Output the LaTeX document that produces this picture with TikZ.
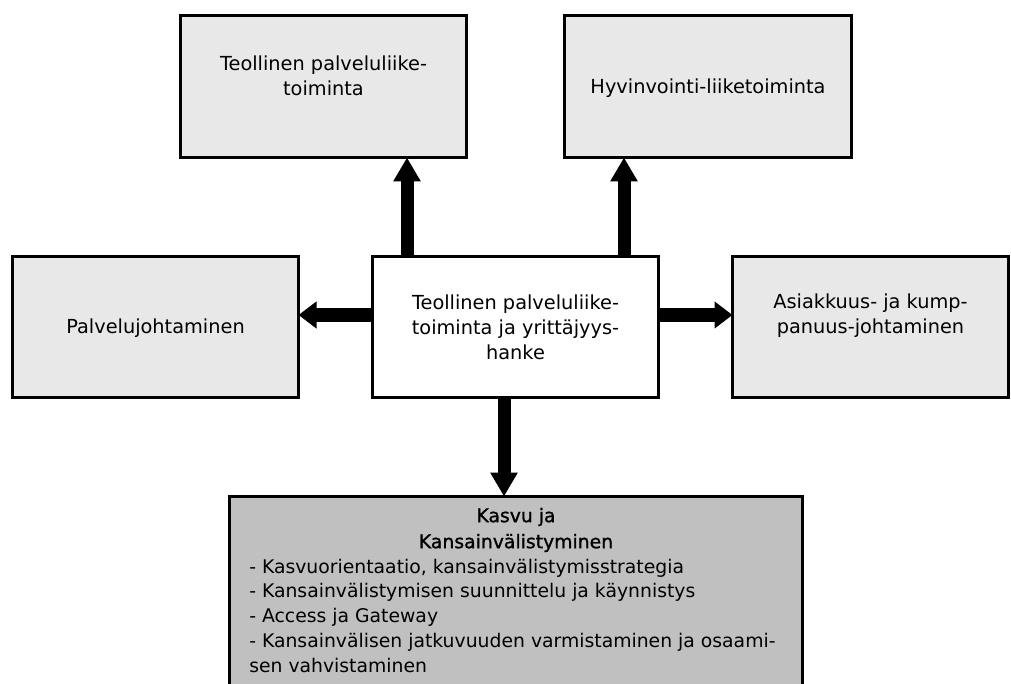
\documentclass[tikz,border=0pt]{standalone}
\usepackage{fontspec}
\setmainfont{DejaVu Sans}
\newfontfamily\titlefont[FakeBold=1.2]{DejaVu Sans}
\usetikzlibrary{arrows.meta,calc}
\definecolor{lightbox}{RGB}{232,232,232}
\definecolor{darkbox}{RGB}{192,192,192}
\begin{document}
\begin{tikzpicture}[x=0.75pt,y=-0.75pt,
  box/.style={draw=black, line width=2.25pt, inner sep=0pt, outer sep=0pt, fill=lightbox},
  txt/.style={font=\fontsize{14.5pt}{18.6pt}\selectfont, align=center, inner sep=0pt},
  vertarrow/.style={line width=9.75pt, -{Triangle[width=19.5pt,length=18pt]}},
  sidearrow/.style={line width=10.5pt, -{Triangle[width=19.5pt,length=13.5pt]}}]
\useasboundingbox (0,0) rectangle (1011,684);

% boxes
\node[box, minimum width=286*0.75pt, minimum height=142*0.75pt] (tl) at (323.5,86.5) {};
\node[box, minimum width=287*0.75pt, minimum height=142*0.75pt] (tr) at (708,86.5) {};
\node[box, minimum width=286*0.75pt, minimum height=141*0.75pt] (lb) at (155.5,327) {};
\node[box, fill=white, minimum width=286*0.75pt, minimum height=141*0.75pt] (cb) at (515.5,327) {};
\node[box, minimum width=276*0.75pt, minimum height=141*0.75pt] (rb) at (870.5,327) {};
\node[box, fill=darkbox, minimum width=573*0.75pt, minimum height=260*0.75pt] (bb) at (516,626.5) {};

% texts
\node[txt] (tltext) at (323.5,75.5) {Teollinen palveluliike-\\toiminta};
\node[txt] (trtext) at (708,88) {Hyvinvointi-liiketoiminta};
\node[txt] (lbtext) at (155.5,328) {Palvelujohtaminen};
\node[txt] (cbtext) at (515.5,327.5) {Teollinen palveluliike-\\toiminta ja yrittäjyys-\\hanke};
\node[txt] (rbtext) at (870.5,315.5) {Asiakkuus- ja kump-\\panuus-johtaminen};
\node[txt, font=\fontsize{14.1pt}{19.5pt}\titlefont] (bbtitle) at (516,530) {Kasvu ja\\Kansainvälistyminen};
\node[txt, font=\fontsize{14.1pt}{18.6pt}\selectfont, align=left, anchor=north west] (bbitems) at (249,558.5) {%
- Kasvuorientaatio, kansainvälistymisstrategia\\
- Kansainvälistymisen suunnittelu ja käynnistys\\
- Access ja Gateway\\
- Kansainvälisen jatkuvuuden varmistaminen ja osaami-\\
sen vahvistaminen};

% arrows
\coordinate (a1) at ($(cb.north)+(-108.5,0)$);
\coordinate (a2) at ($(cb.north)+(108.5,0)$);
\coordinate (a3) at ($(cb.west)+(0,-12)$);
\coordinate (a4) at ($(cb.east)+(0,-12)$);
\coordinate (a5) at ($(cb.south)+(-11.5,0)$);
\draw[vertarrow] (a1) -- (a1 |- tl.south);
\draw[vertarrow] (a2) -- (a2 |- tr.south);
\draw[sidearrow] (a3) -- (a3 -| lb.east);
\draw[sidearrow] (a4) -- (a4 -| rb.west);
\draw[vertarrow] (a5) -- (a5 |- bb.north);
\end{tikzpicture}
\end{document}
